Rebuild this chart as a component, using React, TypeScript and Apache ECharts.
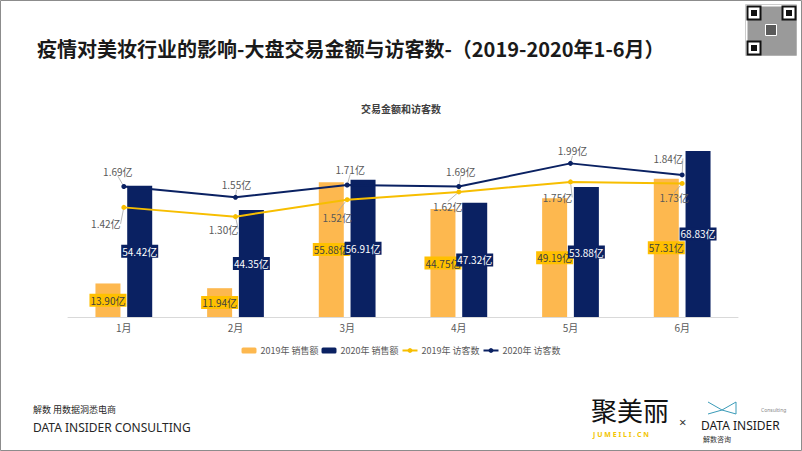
import React, { useEffect, useRef } from "react";
import * as echarts from "echarts";

const categories = ["1月", "2月", "3月", "4月", "5月", "6月"];
const sales2019 = [13.9, 11.94, 55.88, 44.75, 49.19, 57.31];
const sales2020 = [54.42, 44.35, 56.91, 47.32, 53.88, 68.83];
const visitors2019 = [1.42, 1.3, 1.52, 1.62, 1.75, 1.73];
const visitors2020 = [1.69, 1.55, 1.71, 1.69, 1.99, 1.84];
const seriesNames = ["2019年 销售额", "2020年 销售额", "2019年 访客数", "2020年 访客数"];

const mainTitle = "疫情对美妆行业的影响-大盘交易金额与访客数-（2019-2020年1-6月）";
const chartTitle = "交易金额和访客数";

const C_ORANGE = "#FDB84F";
const C_NAVY = "#0A2162";
const C_YELLOW = "#F7BE00";
const LABEL_GRAY = "#595959";

// label displacement (styling) for line labels
const off2019 = [[-18, 4], [-12, 0], [-10, 5], [-11, 2], [-13, 3], [-8, 2]];
const off2020 = [[-6, -3], [1, 0], [3, -3], [2, -3], [2, 0], [-14, -4]];

export default function App() {
  const ref = useRef<HTMLDivElement>(null);
  useEffect(() => {
    document.body.style.margin = "0";
    const chart = echarts.init(ref.current!, null, { renderer: "svg" });
    const fmt = (p: any) => Number(p.value).toFixed(2) + "亿";
    const option: any = {
      animation: false,
      backgroundColor: "#ffffff",
      title: {
        text: chartTitle,
        left: "center",
        top: 98,
        textStyle: { fontSize: 10, fontWeight: "bold", color: "#404040", fontFamily: "Noto Sans CJK SC" },
      },
      legend: {
        data: seriesNames,
        left: "center",
        top: 341,
        itemWidth: 15,
        itemHeight: 6,
        itemGap: 3,
        textStyle: { fontSize: 9, color: LABEL_GRAY, fontFamily: "Noto Sans CJK SC", padding: [0, 0, 0, -1] },
      },
      grid: { left: 68, right: 64, top: 124, bottom: 134, containLabel: false },
      xAxis: {
        type: "category",
        data: categories,
        axisLine: { lineStyle: { color: "#D9D9D9" } },
        axisTick: { show: false },
        axisLabel: { fontSize: 10, color: LABEL_GRAY, margin: 5, fontFamily: "Noto Sans CJK SC" },
      },
      yAxis: [
        { type: "value", min: 0, max: 80, show: false, splitLine: { show: false } },
        { type: "value", min: 0, max: 2.5, show: false, splitLine: { show: false } },
      ],
      series: [
        {
          name: seriesNames[0],
          type: "bar",
          data: sales2019,
          barWidth: 25,
          barGap: "27%",
          itemStyle: { color: C_ORANGE },
          label: {
            show: true,
            position: "inside",
            formatter: fmt,
            fontSize: 10,
            color: "#404040",
            backgroundColor: "#FFC000",
            padding: [2, 1, 1, 1],
            fontFamily: "Noto Sans CJK SC",
          },
        },
        {
          name: seriesNames[1],
          type: "bar",
          data: sales2020,
          barWidth: 25,
          itemStyle: { color: C_NAVY },
          label: {
            show: true,
            position: "inside",
            formatter: fmt,
            fontSize: 10,
            color: "#ffffff",
            backgroundColor: "#0A2162",
            padding: [2, 1, 1, 1],
            fontFamily: "Noto Sans CJK SC",
          },
        },
        {
          name: seriesNames[2],
          type: "line",
          yAxisIndex: 1,
          data: visitors2019,
          symbol: "circle",
          symbolSize: 5,
          lineStyle: { color: C_YELLOW, width: 2 },
          itemStyle: { color: C_YELLOW },
          label: {
            show: true,
            position: "bottom",
            distance: 5,
            formatter: fmt,
            fontSize: 10,
            color: LABEL_GRAY,
            fontFamily: "Noto Sans CJK SC",
          },
          labelLine: { show: true, lineStyle: { color: "#A6A6A6", width: 0.8 } },
          labelLayout: (p: any) => ({ dx: off2019[p.dataIndex][0], dy: off2019[p.dataIndex][1] }),
          z: 5,
        },
        {
          name: seriesNames[3],
          type: "line",
          yAxisIndex: 1,
          data: visitors2020,
          symbol: "circle",
          symbolSize: 5,
          lineStyle: { color: C_NAVY, width: 2 },
          itemStyle: { color: C_NAVY },
          label: {
            show: true,
            position: "top",
            distance: 5,
            formatter: fmt,
            fontSize: 10,
            color: LABEL_GRAY,
            fontFamily: "Noto Sans CJK SC",
          },
          labelLine: { show: true, lineStyle: { color: "#A6A6A6", width: 0.8 } },
          labelLayout: (p: any) => ({ dx: off2020[p.dataIndex][0], dy: off2020[p.dataIndex][1] }),
          z: 5,
        },
      ],
      graphic: [
        {
          type: "rect",
          shape: { x: 0.5, y: 0.5, width: 801, height: 450 },
          style: { fill: "none", stroke: "#8C8C8C", lineWidth: 1 },
          silent: true,
        },
        {
          type: "text",
          left: 37,
          top: 38,
          style: {
            text: mainTitle,
            fontSize: 20,
            fontWeight: "bold",
            fill: "#1a1a1a",
            fontFamily: "Noto Sans CJK SC",
          },
        },
        {
          type: "line",
          shape: { x1: 37, y1: 72, x2: 440, y2: 72 },
          style: {
            lineWidth: 2,
            stroke: new echarts.graphic.LinearGradient(0, 0, 1, 0, [
              { offset: 0, color: "#595959" },
              { offset: 1, color: "#A6A6A6" },
            ]),
          },
        },
        // QR code placeholder
        {
          type: "group",
          left: 745,
          top: 4,
          children: [
            { type: "rect", shape: { x: 0, y: 0, width: 51, height: 51 }, style: { fill: "#ffffff", stroke: "#cccccc" } },
            { type: "rect", shape: { x: 2, y: 2, width: 49, height: 49 }, style: { fill: "#9a9a9a" } },
            { type: "rect", shape: { x: 2, y: 2, width: 13, height: 13 }, style: { fill: "#fff", stroke: "#111", lineWidth: 2 } },
            { type: "rect", shape: { x: 5.5, y: 5.5, width: 6, height: 6 }, style: { fill: "#111" } },
            { type: "rect", shape: { x: 37, y: 2, width: 13, height: 13 }, style: { fill: "#fff", stroke: "#111", lineWidth: 2 } },
            { type: "rect", shape: { x: 40.5, y: 5.5, width: 6, height: 6 }, style: { fill: "#111" } },
            { type: "rect", shape: { x: 2, y: 37, width: 13, height: 13 }, style: { fill: "#fff", stroke: "#111", lineWidth: 2 } },
            { type: "rect", shape: { x: 5.5, y: 40.5, width: 6, height: 6 }, style: { fill: "#111" } },
            { type: "rect", shape: { x: 20, y: 20, width: 11, height: 11 }, style: { fill: "#5a5a5a", stroke: "#fff" } },
          ],
        },
        {
          type: "text",
          left: 33,
          top: 405,
          style: { text: "解数 用数据洞悉电商", fontSize: 9, fill: "#262626", fontFamily: "Noto Sans CJK SC" },
        },
        {
          type: "text",
          left: 33,
          top: 421,
          style: { text: "DATA INSIDER CONSULTING", fontSize: 12, fill: "#262626", fontFamily: "Noto Sans" },
        },
        {
          type: "text",
          left: 591,
          top: 396,
          style: { text: "聚美丽", fontSize: 26, fill: "#111111", fontFamily: "Noto Sans CJK SC" },
        },
        {
          type: "text",
          left: 593,
          top: 431,
          style: { text: "J U M E I L I . C N", fontSize: 7, fontWeight: "bold", fill: "#F2C400", fontFamily: "Noto Sans" },
        },
        {
          type: "text",
          left: 679,
          top: 415,
          style: { text: "×", fontSize: 13, fill: "#333333", fontFamily: "Noto Sans" },
        },
        {
          type: "polyline",
          shape: { points: [[708, 402], [722, 410], [736, 402], [736, 414], [722, 410], [708, 414]] },
          style: { fill: "none", stroke: "#3A9BB8", lineWidth: 1 },
        },
        {
          type: "text",
          left: 761,
          top: 407,
          style: { text: "Consulting", fontSize: 5, fill: "#888888", fontFamily: "Noto Sans" },
        },
        {
          type: "text",
          left: 701,
          top: 419,
          style: { text: "DATA INSIDER", fontSize: 12, fill: "#1a1a1a", fontFamily: "Noto Sans" },
        },
        {
          type: "text",
          left: 703,
          top: 435,
          style: { text: "解数咨询", fontSize: 7, fill: "#333333", fontFamily: "Noto Sans CJK SC" },
        },
      ],
    };
    chart.setOption(option);
    return () => chart.dispose();
  }, []);
  return <div ref={ref} style={{ width: 802, height: 451 }} />;
}
